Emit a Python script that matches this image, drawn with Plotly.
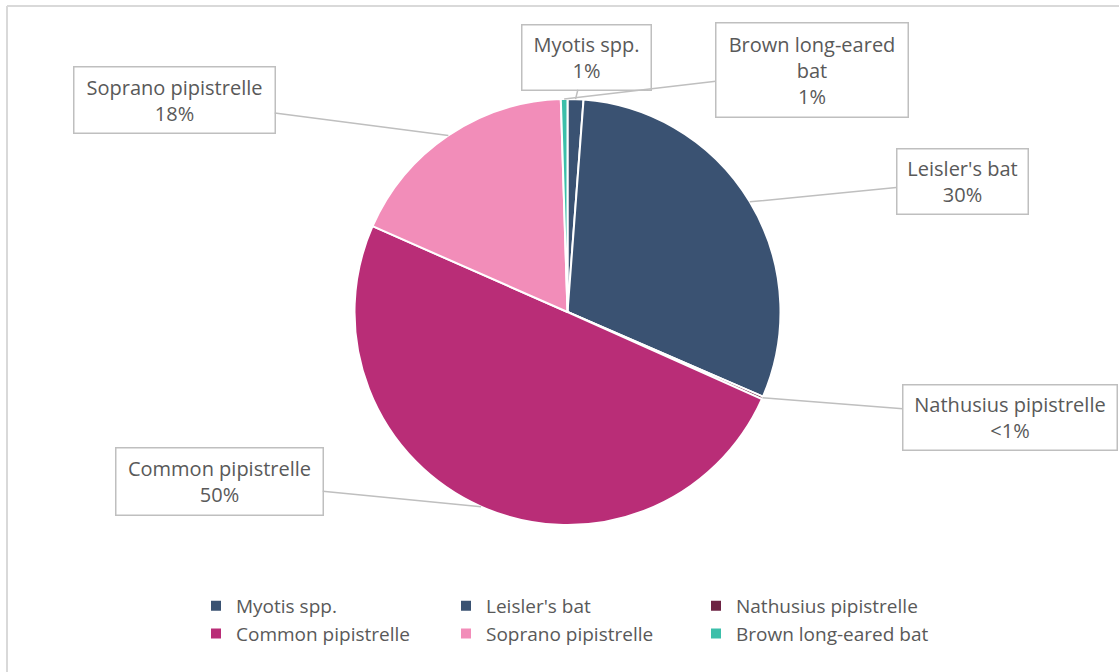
import math
import plotly.graph_objects as go

# ---- data ----
species = ["Myotis spp.", "Leisler's bat", "Nathusius pipistrelle",
           "Common pipistrelle", "Soprano pipistrelle", "Brown long-eared bat"]
shares = [1.2, 30.3, 0.2, 49.9, 17.9, 0.5]
pct_labels = ["1%", "30%", "<1%", "50%", "18%", "1%"]
callout_names = ["Myotis spp.", "Leisler's bat", "Nathusius pipistrelle",
                 "Common pipistrelle", "Soprano pipistrelle", "Brown long-eared<br>bat"]
colors = ["#3A5272", "#3A5272", "#6D2343", "#B92D77", "#F28DB9", "#3CBFAA"]

# ---- layout geometry (pixels) ----
W, H = 1119, 672
ML, MR, MT, MB = 108, 92, 99, 147
PW, PH = W - ML - MR, H - MT - MB
R = min(PW, PH) / 2.0
CX, CY = ML + PW / 2.0, MT + PH / 2.0

# callout box centres and sizes (pixels)
box_centre = [(586, 57), (962, 181), (1010, 417), (219, 481), (174, 100), (812, 70)]
box_size = [(130, 66), (132, 66), (215, 66), (208, 68), (202, 67), (193, 95)]

font_family = "'Open Sans', Calibri, Carlito, Lato, sans-serif"
grey = "#595959"

fig = go.Figure(go.Pie(
    labels=species, values=shares, sort=False, direction="clockwise",
    rotation=0, textinfo="none", hoverinfo="label+percent",
    marker=dict(colors=colors, line=dict(color="white", width=2)),
    domain=dict(x=[0, 1], y=[0, 1]),
))

total = sum(shares)
cum = 0.0
annotations = []
for name, v, p, (bx, by), (bw, bh) in zip(callout_names, shares, pct_labels, box_centre, box_size):
    mid = (cum + v / 2.0) / total * 2 * math.pi
    cum += v
    tx = CX + R * math.sin(mid)
    ty = CY - R * math.cos(mid)
    annotations.append(dict(
        x=(tx - ML) / PW, y=1 - (ty - MT) / PH, xref="paper", yref="paper",
        text=f"{name}<br>{p}", showarrow=True, arrowhead=0, arrowwidth=1.5,
        arrowcolor="#BFBFBF", ax=bx - tx, ay=by - ty,
        width=bw - 4, height=bh - 4, align="center", valign="middle",
        bgcolor="white", bordercolor="#BFBFBF", borderwidth=1.5, borderpad=1,
        font=dict(family=font_family, size=20, color=grey),
    ))

def px_x(x):
    return (x - ML) / PW

def px_y(y):
    return 1 - (y - MT) / PH

# chart-area border (left & top edges)
shapes = [
    dict(type="line", xref="paper", yref="paper", x0=px_x(7), x1=px_x(1125),
         y0=px_y(6), y1=px_y(6), line=dict(color="#D9D9D9", width=2)),
    dict(type="line", xref="paper", yref="paper", x0=px_x(7), x1=px_x(7),
         y0=px_y(6), y1=px_y(680), line=dict(color="#D9D9D9", width=2)),
]

fig.update_layout(
    width=W, height=H,
    margin=dict(l=ML, r=MR, t=MT, b=MB, autoexpand=False),
    paper_bgcolor="white", plot_bgcolor="white",
    showlegend=True,
    legend=dict(orientation="h", x=px_x(196), y=px_y(587), xanchor="left", yanchor="top",
                entrywidth=205, entrywidthmode="pixels",
                font=dict(family=font_family, size=19, color=grey),
                traceorder="normal"),
    annotations=annotations,
    shapes=shapes,
    font=dict(family=font_family, color=grey),
)

fig.write_html("out.html", config={"displayModeBar": False},
               post_script="document.body.style.margin='0';")
